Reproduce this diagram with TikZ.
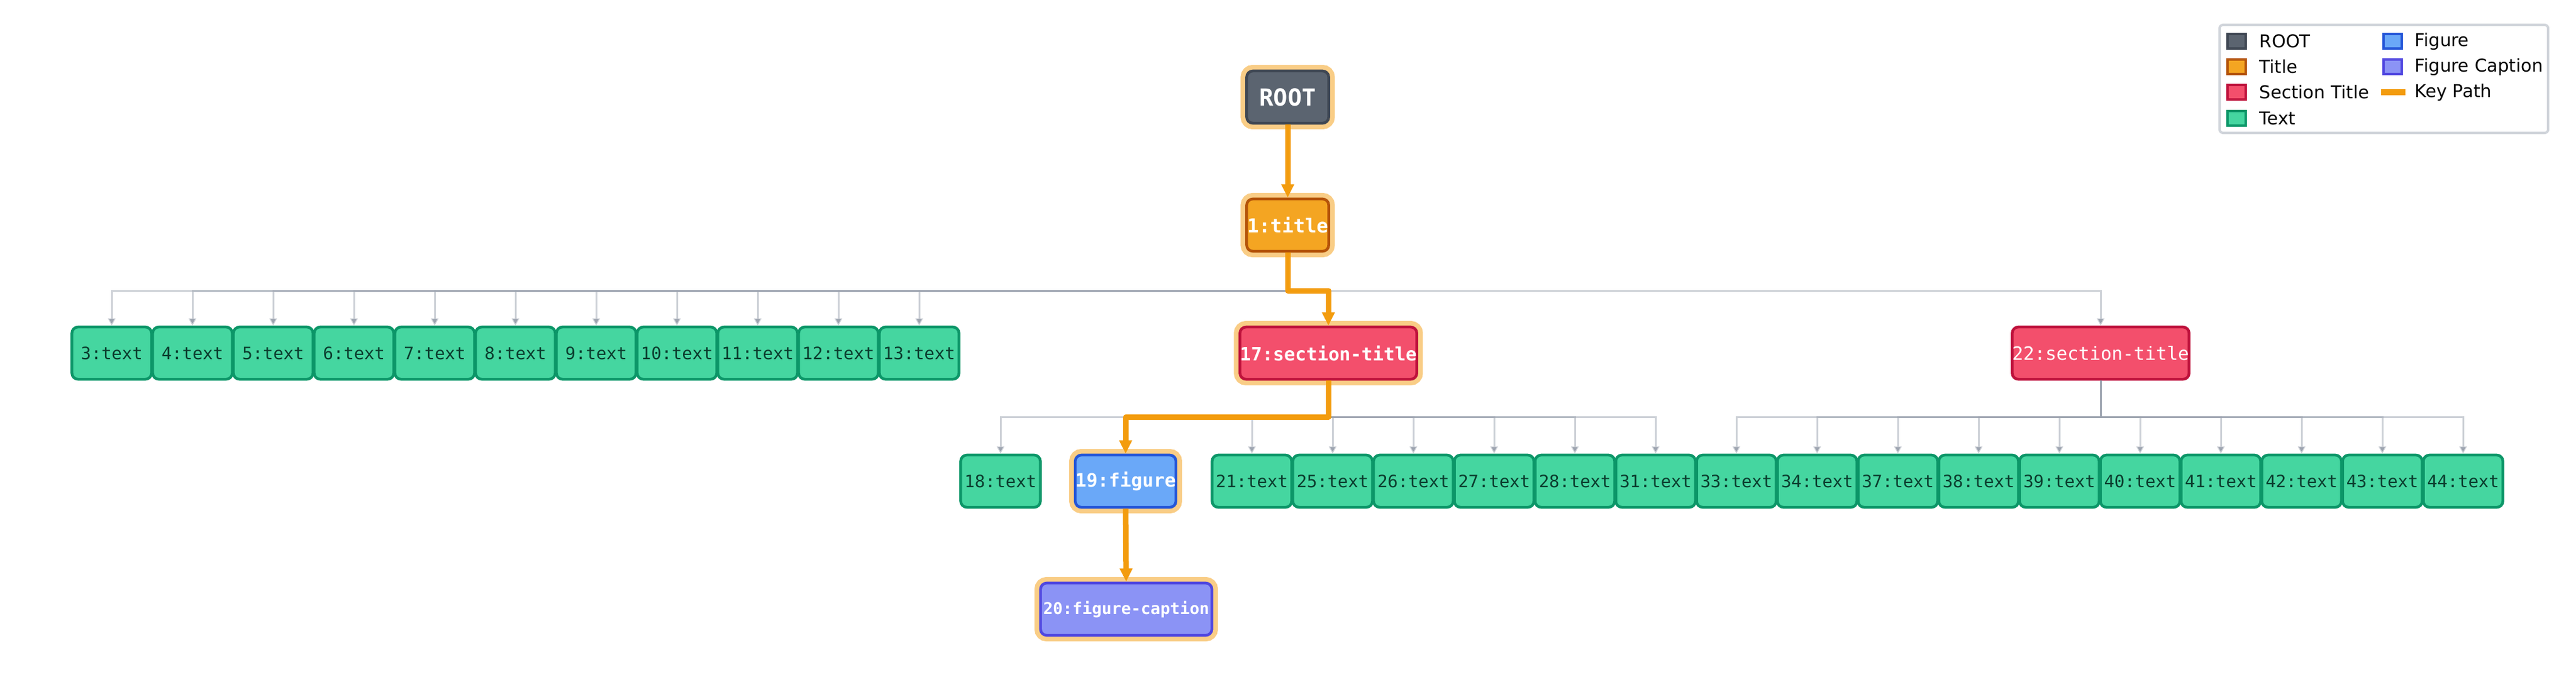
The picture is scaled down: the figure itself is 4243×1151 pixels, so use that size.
\documentclass[tikz,border=0pt]{standalone}
\usepackage{fontspec}
\setmainfont{DejaVu Sans}
\newfontfamily\monof{DejaVu Sans Mono}
\usetikzlibrary{arrows.meta}
\definecolor{rootf}{HTML}{5B6470}\definecolor{rootd}{HTML}{3F4753}
\definecolor{titf}{HTML}{F4A522}\definecolor{titd}{HTML}{B45309}
\definecolor{secf}{HTML}{F34F6C}\definecolor{secd}{HTML}{BE123C}
\definecolor{txtf}{HTML}{45D6A0}\definecolor{txtd}{HTML}{0C9668}\definecolor{txtt}{HTML}{0B3D2E}
\definecolor{figf}{HTML}{6AA8F8}\definecolor{figd}{HTML}{2456D8}
\definecolor{capf}{HTML}{8B93F5}\definecolor{capd}{HTML}{5047E0}
\definecolor{keyc}{HTML}{F39C0E}\definecolor{haloc}{HTML}{F9CD86}
\definecolor{edgec}{HTML}{9CA3AF}\definecolor{legd}{HTML}{D1D5DB}
\tikzset{
 box/.style={rounded corners=0.1cm, line width=0.045cm, minimum height=0.86cm, inner sep=0pt, font=\monof\fontsize{8}{9}\selectfont},
 txt/.style={box, fill=txtf, draw=txtd, text=txtt, minimum width=1.31cm},
 key/.style={preaction={draw=haloc, line width=0.2cm}},
 edge/.style={draw=edgec, draw opacity=0.5, line width=0.03cm, -{Triangle[length=0.12cm,width=0.12cm,fill=edgec]}},
 kedge/.style={draw=keyc, line width=0.09cm, -{Triangle[length=0.22cm,width=0.2cm]}, line join=round},
 legsq/.style={line width=0.035cm, minimum width=0.3cm, minimum height=0.24cm, inner sep=0pt},
 legt/.style={anchor=west, font=\fontsize{8.3}{10}\selectfont, inner sep=0pt}
}
\begin{document}
\begin{tikzpicture}[x=0.01cm,y=-0.01cm]
\useasboundingbox (0,0) rectangle (4243,1151);
\coordinate (bus1) at (0,479);
\coordinate (bus2) at (0,687);
% nodes
\node[box,key,fill=rootf,draw=rootd,text=white,minimum width=1.35cm,font=\monof\bfseries\fontsize{11}{12}\selectfont] (root) at (2121,160) {ROOT};
\node[box,key,fill=titf,draw=titd,text=white,minimum width=1.35cm,font=\monof\bfseries\fontsize{9}{10}\selectfont] (n1) at (2121,371) {1:title};
\node[box,key,fill=secf,draw=secd,text=white,minimum width=2.68cm,font=\monof\bfseries\fontsize{8.6}{10}\selectfont] (n17) at (2188,582) {17:section-title};
\node[box,fill=secf,draw=secd,text=white,minimum width=2.68cm,font=\monof\fontsize{8.6}{10}\selectfont] (n22) at (3460,582) {22:section-title};
\foreach \i [count=\k from 0] in {3,...,13} {
  \node[txt] (t\i) at ({184+133*\k},582) {\i:text};
}
\node[txt] (t18) at (1648,793) {18:text};
\node[box,key,fill=figf,draw=figd,text=white,minimum width=1.52cm,font=\monof\bfseries\fontsize{8.7}{10}\selectfont] (n19) at (1854,793) {19:figure};
\node[box,key,fill=capf,draw=capd,text=white,minimum width=2.82cm,font=\monof\bfseries\fontsize{7.6}{9}\selectfont] (n20) at (1855,1004) {20:figure-caption};
\foreach \i [count=\k from 0] in {21,25,26,27,28,31,33,34,37,38,39,40,41,42,43,44} {
  \node[txt] (t\i) at ({2062+133*\k},793) {\i:text};
}
% edges
\foreach \c in {t3,t4,t5,t6,t7,t8,t9,t10,t11,t12,t13,n22} {
  \draw[edge] (n1.south) -- (n1.south |- bus1) -| (\c.north);
}
\foreach \c in {t18,t21,t25,t26,t27,t28,t31} {
  \draw[edge] (n17.south) -- (n17.south |- bus2) -| (\c.north);
}
\foreach \c in {t33,t34,t37,t38,t39,t40,t41,t42,t43,t44} {
  \draw[edge] (n22.south) -- (n22.south |- bus2) -| (\c.north);
}
\draw[kedge] (root.south) -- (n1.north);
\draw[kedge] (n1.south) -- (n1.south |- bus1) -| (n17.north);
\draw[kedge] (n17.south) -- (n17.south |- bus2) -| (n19.north);
\draw[kedge] (n19.south) -- (n20.north);
% legend
\node[draw=legd, line width=0.04cm, rounded corners=0.06cm, fill=white, minimum width=5.41cm, minimum height=1.78cm, inner sep=0pt] (leg) at (3926.5,130) {};
\node[legsq,fill=rootf,draw=rootd] (l1) at (3684,68) {};\node[legt] (lt1) at (3721,68) {ROOT};
\node[legsq,fill=titf,draw=titd] (l2) at (3684,110) {};\node[legt] (lt2) at (3721,110) {Title};
\node[legsq,fill=secf,draw=secd] (l3) at (3684,152) {};\node[legt] (lt3) at (3721,152) {Section Title};
\node[legsq,fill=txtf,draw=txtd] (l4) at (3684,195) {};\node[legt] (lt4) at (3721,195) {Text};
\node[legsq,fill=figf,draw=figd] (l5) at (3941,68) {};\node[legt] (lt5) at (3977,68) {Figure};
\node[legsq,fill=capf,draw=capd] (l6) at (3941,110) {};\node[legt] (lt6) at (3977,110) {Figure Caption};
\coordinate (k1) at (3922,152);\coordinate (k2) at (3962,152);
\draw[keyc,line width=0.1cm] (k1) -- (k2);
\node[legt] (lt7) at (3977,152) {Key Path};
\end{tikzpicture}
\end{document}
